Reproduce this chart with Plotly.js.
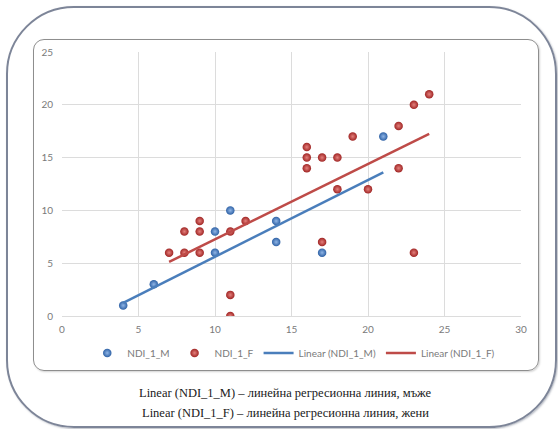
<!DOCTYPE html>
<html>
<head>
<meta charset="utf-8">
<script src="https://cdn.plot.ly/plotly-3.0.1.min.js"></script>
<style>
  html, body { margin: 0; padding: 0; background: #ffffff; }
  #wrap { position: relative; width: 558px; height: 429px; overflow: hidden; }
  #outer { position: absolute; left: 6px; top: 6px; width: 551px; height: 422px;
           border: 2px solid #7d8598; border-radius: 68px; box-sizing: border-box;
           box-shadow: 1px 1px 2px rgba(90,100,120,0.45); }
  #inner { position: absolute; left: 33px; top: 39px; width: 506px; height: 332px;
           border: 1.5px solid #8e8e8e; border-radius: 11px; box-sizing: border-box;
           box-shadow: 1px 1px 2px rgba(0,0,0,0.18); }
  #chart { position: absolute; left: 0; top: 0; width: 558px; height: 429px; }
</style>
</head>
<body>
<div id="wrap">
  <div id="outer"></div>
  <div id="inner"></div>
  <div id="chart"></div>
</div>
<script>
// Series NDI_1_M (men)
var maleX = [4, 6, 10, 10, 11, 14, 14, 17, 21];
var maleY = [1, 3, 8, 6, 10, 9, 7, 6, 17];
// Series NDI_1_F (women)
var femaleX = [7, 8, 8, 9, 9, 9, 11, 11, 11, 12, 16, 16, 16, 17, 17, 18, 18, 19, 20, 22, 22, 23, 23, 24];
var femaleY = [6, 8, 6, 9, 8, 6, 8, 2, 0, 9, 16, 15, 14, 15, 7, 15, 12, 17, 12, 18, 14, 20, 6, 21];
// Linear trend lines (end points)
var trendMaleX = [4, 21];
var trendMaleY = [1.25, 13.6];
var trendFemaleX = [7, 24];
var trendFemaleY = [5.12, 17.24];
// Names and captions
var seriesNames = ['NDI_1_M', 'NDI_1_F', 'Linear (NDI_1_M)', 'Linear (NDI_1_F)'];
var captionLines = [
  'Linear (NDI_1_M) – линейна регресионна линия, мъже',
  'Linear (NDI_1_F) – линейна регресионна линия, жени'
];
var tickVals = [0, 5, 10, 15, 20, 25, 30];
var yTickVals = [0, 5, 10, 15, 20, 25];

var tickFont = {family: 'Lato, "Open Sans", sans-serif', size: 10, color: '#7a7a7a'};

var traces = [
  {x: maleX, y: maleY, type: 'scatter', mode: 'markers', name: seriesNames[0],
   marker: {color: '#2f62a6', size: 8.5, gradient: {type: 'radial', color: '#8fb5e6'},
            line: {width: 0}}},
  {x: femaleX, y: femaleY, type: 'scatter', mode: 'markers', name: seriesNames[1],
   marker: {color: '#a02524', size: 8.5, gradient: {type: 'radial', color: '#e4807c'},
            line: {width: 0}}},
  {x: trendMaleX, y: trendMaleY, type: 'scatter', mode: 'lines', name: seriesNames[2],
   line: {color: '#4a7ebb', width: 2.5}},
  {x: trendFemaleX, y: trendFemaleY, type: 'scatter', mode: 'lines', name: seriesNames[3],
   line: {color: '#be4b48', width: 2.5}}
];

var layout = {
  width: 558, height: 429,
  margin: {l: 62, r: 37, t: 52, b: 113},
  paper_bgcolor: 'rgba(0,0,0,0)',
  plot_bgcolor: 'rgba(0,0,0,0)',
  showlegend: true,
  xaxis: {range: [0, 30], tickvals: tickVals, showgrid: true, gridcolor: '#dcdcdc', gridwidth: 1,
          zeroline: false, showline: false, ticks: '', tickfont: tickFont, ticklabelstandoff: 6,
          fixedrange: true},
  yaxis: {range: [0, 25], tickvals: yTickVals, showgrid: true, gridcolor: '#dcdcdc', gridwidth: 1,
          zeroline: true, zerolinecolor: '#dcdcdc', zerolinewidth: 1, showline: false, ticks: '',
          tickfont: tickFont, ticklabelstandoff: 8, fixedrange: true},
  legend: {orientation: 'h', x: 0.055, xanchor: 'left', y: -0.14, yanchor: 'middle',
           font: {family: 'Lato, "Open Sans", sans-serif', size: 10, color: '#7a7a7a'},
           bgcolor: 'rgba(0,0,0,0)', itemwidth: 30, traceorder: 'normal'},
  annotations: [
    {text: captionLines[0], xref: 'paper', yref: 'paper', x: 0.487, y: -0.292,
     xanchor: 'center', yanchor: 'middle', showarrow: false,
     font: {family: '"Liberation Serif", "DejaVu Serif", serif', size: 12.5, color: '#1a1a1a'}},
    {text: captionLines[1], xref: 'paper', yref: 'paper', x: 0.487, y: -0.368,
     xanchor: 'center', yanchor: 'middle', showarrow: false,
     font: {family: '"Liberation Serif", "DejaVu Serif", serif', size: 12.5, color: '#1a1a1a'}}
  ]
};

Plotly.newPlot('chart', traces, layout, {displayModeBar: false, staticPlot: true});
</script>
</body>
</html>
